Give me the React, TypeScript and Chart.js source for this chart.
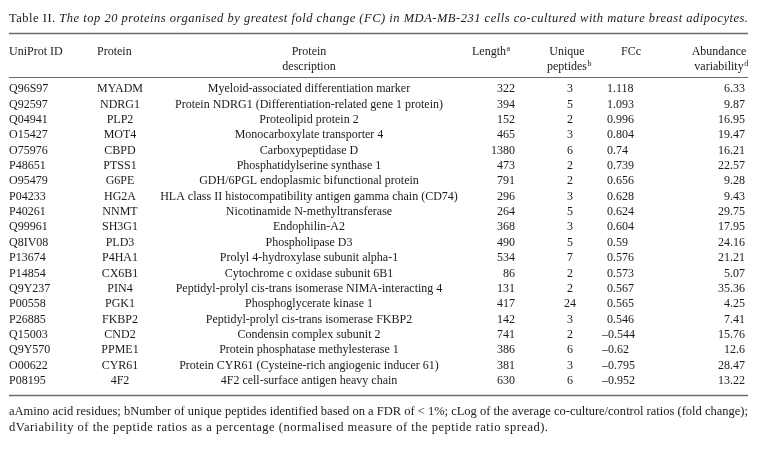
import React, { useEffect, useRef } from "react";
import { Chart, registerables } from "chart.js";
Chart.register(...registerables);

// ---------- data ----------
const uniprotIds = ["Q96S97","Q92597","Q04941","O15427","O75976","P48651","O95479","P04233","P40261","Q99961","Q8IV08","P13674","P14854","Q9Y237","P00558","P26885","Q15003","Q9Y570","O00622","P08195"];
const proteins = ["MYADM","NDRG1","PLP2","MOT4","CBPD","PTSS1","G6PE","HG2A","NNMT","SH3G1","PLD3","P4HA1","CX6B1","PIN4","PGK1","FKBP2","CND2","PPME1","CYR61","4F2"];
const descriptions = [
  "Myeloid-associated differentiation marker",
  "Protein NDRG1 (Differentiation-related gene 1 protein)",
  "Proteolipid protein 2",
  "Monocarboxylate transporter 4",
  "Carboxypeptidase D",
  "Phosphatidylserine synthase 1",
  "GDH/6PGL endoplasmic bifunctional protein",
  "HLA class II histocompatibility antigen gamma chain (CD74)",
  "Nicotinamide N-methyltransferase",
  "Endophilin-A2",
  "Phospholipase D3",
  "Prolyl 4-hydroxylase subunit alpha-1",
  "Cytochrome c oxidase subunit 6B1",
  "Peptidyl-prolyl cis-trans isomerase NIMA-interacting 4",
  "Phosphoglycerate kinase 1",
  "Peptidyl-prolyl cis-trans isomerase FKBP2",
  "Condensin complex subunit 2",
  "Protein phosphatase methylesterase 1",
  "Protein CYR61 (Cysteine-rich angiogenic inducer 61)",
  "4F2 cell-surface antigen heavy chain",
];
const lengths = [322,394,152,465,1380,473,791,296,264,368,490,534,86,131,417,142,741,386,381,630];
const uniquePeptides = [3,5,2,3,6,2,2,3,5,3,5,7,2,2,24,3,2,6,3,6];
const foldChanges = [1.118,1.093,0.996,0.804,0.74,0.739,0.656,0.628,0.624,0.604,0.59,0.576,0.573,0.567,0.565,0.546,-0.544,-0.62,-0.795,-0.952];
const abundanceVariability = [6.33,9.87,16.95,19.47,16.21,22.57,9.28,9.43,29.75,17.95,24.16,21.21,5.07,35.36,4.25,7.41,15.76,12.6,28.47,13.22];

const titleLabel = "Table II. ";
const titleText = "The top 20 proteins organised by greatest fold change (FC) in MDA-MB-231 cells co-cultured with mature breast adipocytes.";
const headers = [
  { lines: ["UniProt ID"], sup: "" },
  { lines: ["Protein"], sup: "" },
  { lines: ["Protein", "description"], sup: "" },
  { lines: ["Length"], sup: "a" },
  { lines: ["Unique", "peptides"], sup: "b" },
  { lines: ["FCc"], sup: "" },
  { lines: ["Abundance", "variability"], sup: "d" },
];
const footnote1 = "aAmino acid residues; bNumber of unique peptides identified based on a FDR of < 1%; cLog of the average co-culture/control ratios (fold change);";
const footnote2 = "dVariability of the peptide ratios as a percentage (normalised measure of the peptide ratio spread).";

// ---------- layout / style ----------
const W = 758, H = 453;
const LEFT = 9, RIGHT = 748, FOOT2_RIGHT = 548;
const ROW0 = 89, STEP = 15.37;
const COLS = [
  { x: 9, align: "left" },
  { x: 120, align: "center" },
  { x: 309, align: "center" },
  { x: 515, align: "right" },
  { x: 570, align: "center" },
  { x: 607, align: "left" },
  { x: 745, align: "right" },
];
const HEAD_X = [
  { x: 9, align: "left" },
  { x: 97, align: "left" },
  { x: 309, align: "center" },
  { x: 489, align: "center" },
  { x: 567, align: "center" },
  { x: 631, align: "center" },
  { x: 719, align: "center" },
];
const FONT_SIZE = 12;
const NOTE_SIZE = 12.5;
const FAMILY = "'Liberation Serif', 'Times New Roman', serif";
const TEXT = "#1a1a1a";
const RULE = "#6b6b6b";

const fmt = (v: number) => (v < 0 ? "\u2013" + String(-v) : String(v));

function cellText(c: number, r: number): string {
  switch (c) {
    case 0: return uniprotIds[r];
    case 1: return proteins[r];
    case 2: return descriptions[r];
    case 3: return String(lengths[r]);
    case 4: return String(uniquePeptides[r]);
    case 5: return fmt(foldChanges[r]);
    default: return String(abundanceVariability[r]);
  }
}

const rowVal = (px: number) => (px - ROW0) / STEP;

// draws runs of text with letter spacing chosen so the line spans x0..x1
function drawFitted(ctx: any, runs: { t: string; font: string }[], y: number, x0: number, x1: number) {
  ctx.letterSpacing = "0px";
  let natural = 0, chars = 0;
  runs.forEach((r) => { ctx.font = r.font; natural += ctx.measureText(r.t).width; chars += r.t.length; });
  const ls = Math.max(0, (x1 - x0 - natural) / Math.max(1, chars - 1));
  ctx.letterSpacing = ls + "px";
  ctx.textAlign = "left";
  let x = x0;
  runs.forEach((r) => { ctx.font = r.font; ctx.fillText(r.t, x, y); x += ctx.measureText(r.t).width; });
  ctx.letterSpacing = "0px";
}

const tablePlugin = {
  id: "tablePlugin",
  afterDatasetsDraw(chart: any) {
    const ctx: any = chart.ctx;
    const xs = chart.scales.x, ys = chart.scales.y;
    const normal = `${FONT_SIZE}px ${FAMILY}`;
    const noteNormal = `${NOTE_SIZE}px ${FAMILY}`;
    const noteItalic = `italic ${NOTE_SIZE}px ${FAMILY}`;
    const supFont = `${FONT_SIZE - 4}px ${FAMILY}`;
    ctx.save();
    ctx.fillStyle = TEXT;
    ctx.textBaseline = "middle";

    // title
    drawFitted(ctx, [{ t: titleLabel, font: noteNormal }, { t: titleText, font: noteItalic }], ys.getPixelForValue(rowVal(19)), xs.getPixelForValue(LEFT), xs.getPixelForValue(RIGHT));

    // rules
    ctx.strokeStyle = RULE;
    const rule = (py: number, lw: number) => {
      ctx.lineWidth = lw;
      ctx.beginPath();
      const y = ys.getPixelForValue(rowVal(py));
      ctx.moveTo(xs.getPixelForValue(LEFT), y);
      ctx.lineTo(xs.getPixelForValue(RIGHT), y);
      ctx.stroke();
    };
    rule(33.5, 1.6);
    rule(77.5, 1.2);
    rule(395.5, 1.6);

    // headers
    headers.forEach((h, c) => {
      const hx = xs.getPixelForValue(HEAD_X[c].x);
      h.lines.forEach((line, li) => {
        const y = ys.getPixelForValue(rowVal(52 + li * 15));
        ctx.font = normal;
        ctx.textAlign = HEAD_X[c].align as CanvasTextAlign;
        ctx.fillText(line, hx, y);
        if (h.sup && li === h.lines.length - 1) {
          const w = ctx.measureText(line).width;
          const endX = HEAD_X[c].align === "center" ? hx + w / 2 : HEAD_X[c].align === "left" ? hx + w : hx;
          ctx.font = supFont;
          ctx.textAlign = "left";
          ctx.fillText(h.sup, endX + 0.5, y - 3);
        }
      });
    });

    // cells (one dataset per column, one point per row)
    chart.data.datasets.forEach((_: any, c: number) => {
      const meta = chart.getDatasetMeta(c);
      meta.data.forEach((pt: any, r: number) => {
        const t = cellText(c, r);
        ctx.font = normal;
        if (c === 5 && t.startsWith("\u2013")) {
          const dw = ctx.measureText("\u2013").width;
          ctx.textAlign = "left";
          ctx.fillText(t, pt.x - dw + 1, pt.y);
        } else {
          ctx.textAlign = COLS[c].align as CanvasTextAlign;
          ctx.fillText(t, pt.x, pt.y);
        }
      });
    });

    // footnotes
    drawFitted(ctx, [{ t: footnote1, font: noteNormal }], ys.getPixelForValue(rowVal(412)), xs.getPixelForValue(LEFT), xs.getPixelForValue(RIGHT));
    drawFitted(ctx, [{ t: footnote2, font: noteNormal }], ys.getPixelForValue(rowVal(428)), xs.getPixelForValue(LEFT), xs.getPixelForValue(FOOT2_RIGHT));
    ctx.restore();
  },
};

export default function App() {
  const ref = useRef<HTMLCanvasElement>(null);
  useEffect(() => {
    if (!ref.current) return;
    const chart = new Chart(ref.current, {
      type: "scatter",
      data: {
        datasets: COLS.map((col, c) => ({
          label: headers[c].lines.join(" "),
          data: uniprotIds.map((_, r) => ({ x: col.x, y: r })),
          pointRadius: 0,
          pointHoverRadius: 0,
        })),
      },
      options: {
        animation: false,
        responsive: false,
        devicePixelRatio: 1,
        layout: { padding: 0 },
        events: [],
        scales: {
          x: { type: "linear", min: 0, max: W, display: false },
          y: { type: "linear", min: rowVal(0), max: rowVal(H), reverse: true, display: false },
        },
        plugins: { legend: { display: false }, tooltip: { enabled: false }, title: { display: false } },
      },
      plugins: [tablePlugin],
    });
    return () => chart.destroy();
  }, []);
  return (
    <div style={{ position: "absolute", left: 0, top: 0, width: W, height: H, background: "#fff" }}>
      <canvas ref={ref} width={W} height={H} style={{ width: W, height: H, display: "block" }} />
    </div>
  );
}
